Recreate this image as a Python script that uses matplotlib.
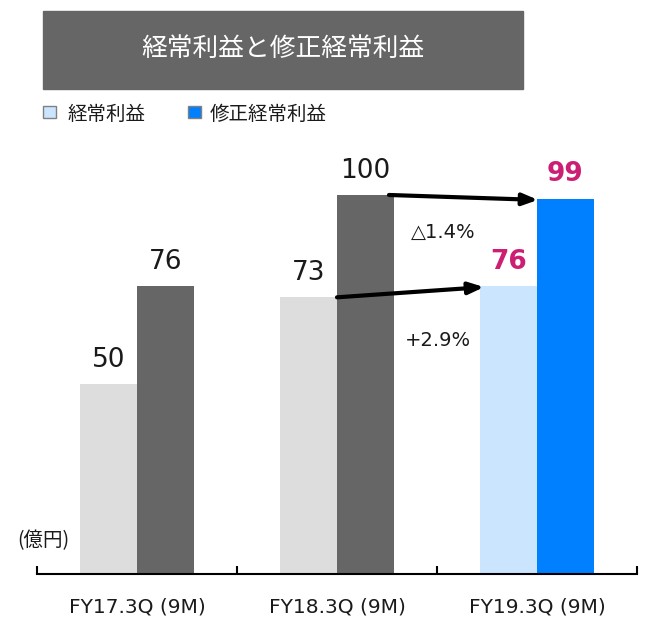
import matplotlib.pyplot as plt
from matplotlib.patches import Rectangle

plt.rcParams['font.family'] = ['Noto Sans CJK JP', 'DejaVu Sans']

categories = ["FY17.3Q (9M)", "FY18.3Q (9M)", "FY19.3Q (9M)"]
ordinary = [50, 73, 76]
adjusted = [76, 100, 99]
light_colors = ["#dddddd", "#dddddd", "#cce5ff"]
dark_colors = ["#666666", "#666666", "#0080ff"]
label_colors = ["#1a1a1a", "#1a1a1a", "#cc1f74"]
growth_labels = ["+2.9%", "△1.4%"]

fig = plt.figure(figsize=(6.46, 6.22), dpi=100)
ax = fig.add_axes([37 / 646, (622 - 574) / 622, 600 / 646, 424.5 / 622])

w = 0.285
xs = [i + 0.5 for i in range(len(categories))]
for i, x in enumerate(xs):
    ax.bar(x - w / 2, ordinary[i], w, color=light_colors[i])
    ax.bar(x + w / 2, adjusted[i], w, color=dark_colors[i])
    bold = "bold" if i == 2 else "normal"
    ax.text(x - w / 2, ordinary[i] + 3, str(ordinary[i]), ha="center", va="bottom",
            fontsize=19, color=label_colors[i], fontweight=bold, family="DejaVu Sans")
    ax.text(x + w / 2, adjusted[i] + 3, str(adjusted[i]), ha="center", va="bottom",
            fontsize=19, color=label_colors[i], fontweight=bold, family="DejaVu Sans")

ax.set_xlim(0, 3)
ax.set_ylim(0, 112)
for s in ["top", "right", "left"]:
    ax.spines[s].set_visible(False)
ax.spines["bottom"].set_linewidth(1.5)
ax.set_yticks([])
ax.set_xticks([0, 1, 2, 3])
ax.set_xticklabels([])
ax.tick_params(axis="x", direction="in", length=6, width=1.5)
for x, c in zip(xs, categories):
    ax.text(x, -8.8, c, ha="center", va="center", fontsize=14.5, color="#1a1a1a",
            family="DejaVu Sans")

# growth arrows
arrow = dict(arrowstyle="-|>,head_length=0.9,head_width=0.35", color="black", lw=3,
             shrinkA=0, shrinkB=0)
ax.annotate("", xy=(2.235, 75.7), xytext=(xs[1], ordinary[1]), arrowprops=arrow)
ax.annotate("", xy=(xs[2] + 0.005, adjusted[2] - 0.3), xytext=(1.76, adjusted[1]),
            arrowprops=arrow)
ax.text(2.005, 61.7, growth_labels[0], ha="center", va="center", fontsize=14,
        color="#1a1a1a", family="DejaVu Sans")
ax.text(2.03, 90.2, growth_labels[1], ha="center", va="center", fontsize=14,
        color="#1a1a1a", family=["DejaVu Sans", "Noto Sans CJK JP"])

ax.text(0.03, 8.7, "(億円)", ha="center", va="center", fontsize=14, color="#1a1a1a")

# title box
fig.patches.append(Rectangle((43 / 646, 1 - 89 / 622), 480 / 646, 78 / 622,
                             transform=fig.transFigure, color="#666666"))
fig.text(283 / 646, 1 - 49 / 622, "経常利益と修正経常利益", ha="center", va="center",
         fontsize=18.5, color="white")

# legend
fig.patches.append(Rectangle((43 / 646, 1 - 118 / 622), 13 / 646, 12 / 622,
                             transform=fig.transFigure, facecolor="#cce5ff",
                             edgecolor="#808080", lw=1))
fig.text(68 / 646, 1 - 114 / 622, "経常利益", ha="left", va="center", fontsize=14,
         color="#1a1a1a")
fig.patches.append(Rectangle((188 / 646, 1 - 118 / 622), 13 / 646, 12 / 622,
                             transform=fig.transFigure, facecolor="#0080ff",
                             edgecolor="#808080", lw=1))
fig.text(210 / 646, 1 - 114 / 622, "修正経常利益", ha="left", va="center", fontsize=14,
         color="#1a1a1a")

fig.savefig("out.png", dpi=100)
